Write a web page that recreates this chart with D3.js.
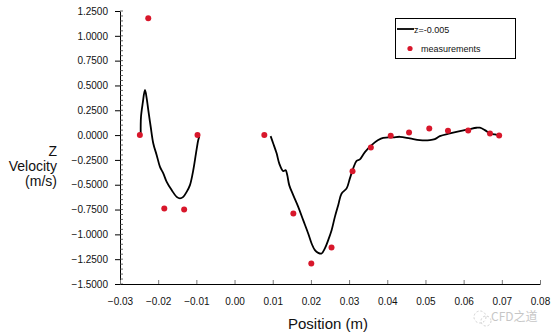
<!DOCTYPE html>
<html><head><meta charset="utf-8">
<script src="https://cdn.jsdelivr.net/npm/d3@7"></script>
<style>body{margin:0;background:#fff}svg{display:block;font-family:"Liberation Sans",Arial,sans-serif}</style>
</head><body><svg id="c" width="560" height="335"></svg>
<script>
const xTicks = [-0.03,-0.02,-0.01,0.00,0.01,0.02,0.03,0.04,0.05,0.06,0.07,0.08];
const yTicks = [1.25,1.0,0.75,0.5,0.25,0,-0.25,-0.5,-0.75,-1.0,-1.25,-1.5];
const seriesName = "z=-0.005";
const measName = "measurements";
// simulated profile, two segments
const lineX1 = [-0.02458,-0.0245,-0.02406,-0.02346,-0.02301,-0.02259,-0.02196,-0.02128,-0.02039,-0.01953,-0.01866,-0.01777,-0.01647,-0.01516,-0.01429,-0.01343,-0.01254,-0.01168,-0.01081,-0.0101,-0.0095,-0.00924];
const lineY1 = [0.017,0.184,0.319,0.454,0.370,0.252,0.084,-0.084,-0.202,-0.320,-0.386,-0.471,-0.554,-0.622,-0.638,-0.622,-0.572,-0.504,-0.353,-0.184,-0.050,-0.017];
const lineX2 = [0.00945,0.01013,0.01102,0.0117,0.01275,0.01338,0.0138,0.01432,0.01537,0.01668,0.01798,0.01929,0.02018,0.02105,0.02191,0.0228,0.02366,0.02453,0.02542,0.02628,0.02715,0.02804,0.02935,0.03021,0.03107,0.03196,0.03283,0.03414,0.03589,0.03762,0.03893,0.04155,0.0433,0.04592,0.04853,0.05115,0.05246,0.05377,0.05639,0.05901,0.06118,0.06338,0.06424,0.06555,0.06686,0.06817,0.06948];
const lineY2 = [-0.010,-0.084,-0.184,-0.285,-0.363,-0.353,-0.403,-0.504,-0.605,-0.723,-0.857,-0.991,-1.092,-1.159,-1.186,-1.193,-1.142,-1.058,-0.958,-0.824,-0.706,-0.588,-0.537,-0.436,-0.336,-0.259,-0.245,-0.171,-0.101,-0.050,-0.027,-0.023,-0.017,-0.033,-0.050,-0.050,-0.040,-0.010,0.017,0.040,0.057,0.074,0.074,0.050,0.017,0.007,-0.007];
// measurements
const measX = [-0.0248,-0.0226,-0.0184,-0.0132,-0.0097,0.0078,0.0154,0.0201,0.0254,0.0309,0.0357,0.0409,0.0457,0.0510,0.0559,0.0612,0.0669,0.0693];
const measY = [0.0,1.176,-0.739,-0.749,0.0,0.0,-0.79,-1.293,-1.132,-0.363,-0.124,-0.007,0.027,0.067,0.044,0.047,0.017,-0.003];

const svg = d3.select("#c");
const x = d3.scaleLinear().domain([-0.03,0.08]).range([120,540]);
const y = d3.scaleLinear().domain([-1.5,1.25]).range([284,11]);
const red = "#d8172b";

// y axis
const yAxis = d3.axisLeft(y).tickValues(yTicks).tickFormat(d3.format(".4f")).tickSize(5).tickSizeOuter(0);
const gy = svg.append("g").attr("transform","translate(120,0)").call(yAxis);
gy.select(".domain").attr("stroke","#000");
gy.selectAll("text").attr("font-size",10).attr("fill","#111").attr("x",-12);
// minor y ticks (inside)
const yMinor = d3.range(-1.5,1.2501,0.05);
svg.append("g").selectAll("line").data(yMinor).join("line")
  .attr("x1",120).attr("x2",123).attr("y1",d=>y(d)).attr("y2",d=>y(d)).attr("stroke","#444").attr("stroke-width",0.8);

// x axis
const xAxis = d3.axisBottom(x).tickValues(xTicks).tickFormat(d3.format(".2f")).tickSize(-4).tickSizeOuter(0);
const gx = svg.append("g").attr("transform","translate(0,284)").call(xAxis);
gx.select(".domain").attr("stroke","#000");
gx.selectAll(".tick line").attr("stroke","#777");
gx.selectAll("text").attr("font-size",10).attr("fill","#111").attr("y",14);

// lines
const lineGen = d3.line().x(d=>x(d[0])).y(d=>y(d[1])).curve(d3.curveCatmullRom);
svg.append("path").datum(lineX1.map((v,i)=>[v,lineY1[i]])).attr("d",lineGen).attr("fill","none").attr("stroke","#000").attr("stroke-width",1.8);
svg.append("path").datum(lineX2.map((v,i)=>[v,lineY2[i]])).attr("d",lineGen).attr("fill","none").attr("stroke","#000").attr("stroke-width",1.8);

// points
svg.append("g").selectAll("circle").data(measX.map((v,i)=>[v,measY[i]])).join("circle")
  .attr("cx",d=>x(d[0])).attr("cy",d=>y(d[1])).attr("r",3).attr("fill",red);

// axis titles
svg.append("text").attr("x",328).attr("y",329).attr("text-anchor","middle").attr("font-size",15).attr("fill","#111").text("Position (m)");
const yt = svg.append("text").attr("text-anchor","end").attr("font-size",14).attr("fill","#111");
[["Z",156],["Velocity",171],["(m/s)",186]].forEach(([t,yy])=>yt.append("tspan").attr("x",57).attr("y",yy).text(t));

// legend
const lg = svg.append("g");
lg.append("rect").attr("x",395.5).attr("y",18.5).attr("width",120).attr("height",40).attr("fill","#fff").attr("stroke","#000");
lg.append("line").attr("x1",397).attr("x2",414).attr("y1",29).attr("y2",29).attr("stroke","#000").attr("stroke-width",1.8);
lg.append("text").attr("x",414).attr("y",32.5).attr("font-size",9).attr("fill","#111").text(seriesName);
lg.append("circle").attr("cx",410).attr("cy",48.5).attr("r",2.6).attr("fill",red);
lg.append("text").attr("x",421).attr("y",52).attr("font-size",9).attr("fill","#111").text(measName);

// watermark
const wm = svg.append("g").attr("opacity",0.55);
wm.append("circle").attr("cx",480).attr("cy",317).attr("r",6).attr("fill","none").attr("stroke","#aaa").attr("stroke-dasharray","2,2");
wm.append("circle").attr("cx",486).attr("cy",321).attr("r",5).attr("fill","none").attr("stroke","#aaa").attr("stroke-dasharray","2,2");
wm.append("text").attr("x",491).attr("y",321).attr("font-size",12).attr("fill","#999").attr("font-family","'Noto Sans CJK SC',sans-serif").text("CFD之道");
</script></body></html>
